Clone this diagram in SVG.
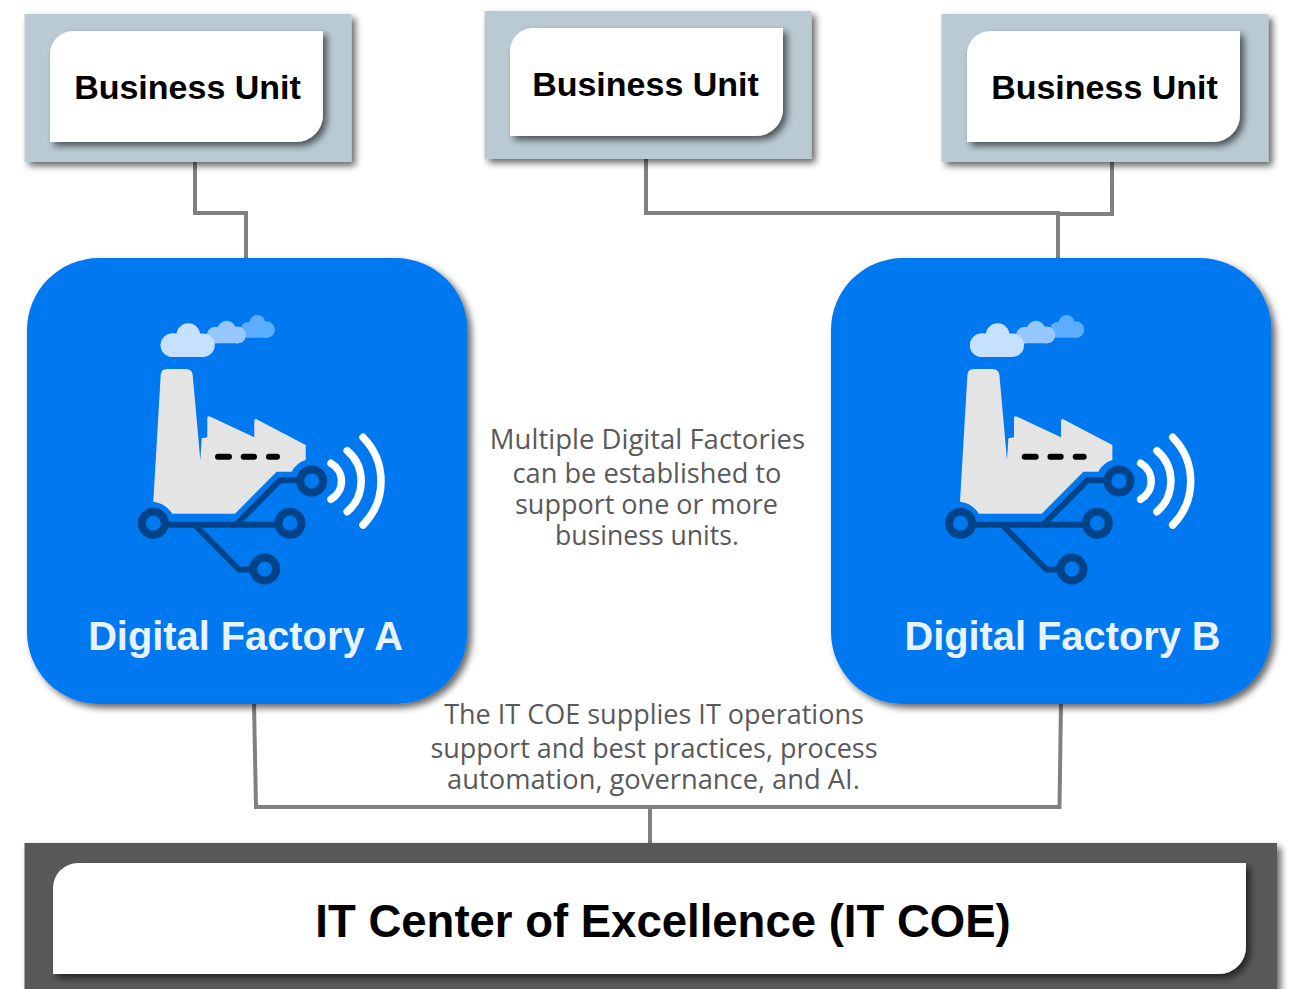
<svg xmlns="http://www.w3.org/2000/svg" width="1290" height="989" viewBox="0 0 1290 989">
<defs>
<filter id="sh" x="-10%" y="-10%" width="125%" height="125%"><feGaussianBlur in="SourceAlpha" stdDeviation="3.500"/><feOffset dx="4" dy="4"/><feComponentTransfer><feFuncA type="linear" slope="0.6"/></feComponentTransfer><feMerge><feMergeNode/><feMergeNode in="SourceGraphic"/></feMerge></filter>
<g id="clouds">
<g fill="#5CADFF"><rect x="240.700" y="322" width="34" height="15.700" rx="7.800"/><circle cx="257.300" cy="322.700" r="7.700"/><circle cx="266.400" cy="329.500" r="8.300"/><circle cx="248.300" cy="330" r="7.600"/></g>
<g fill="#96C8FF"><rect x="207" y="327" width="39" height="16.300" rx="8.100"/><circle cx="226.700" cy="330" r="9.300"/><circle cx="237.300" cy="335" r="8.400"/><circle cx="215" cy="335.500" r="8"/></g>
<g fill="#C6E1FF"><rect x="160.700" y="333.500" width="54" height="23.500" rx="11.700"/><circle cx="188.300" cy="335" r="11.800"/><circle cx="172.400" cy="345.300" r="11.700"/></g>
</g>
<g id="plant">
<path d="M160.700 375Q161 369 167 369H186Q192 369 192.700 375L200.300 460L201.700 438.300L207.300 437.300V418Q207.300 415.500 210 416.500L254.300 437.300V421Q254.500 418 257 419.500L305.700 445V460Q296 463 291.700 471.700H276.700L235 513.700H172.300Q165 503 153.300 501.700Z" fill="#E4E4E4"/>
<path d="M218 456.700H229M243.700 456.700H254M269 456.700H277" stroke="#000" stroke-width="6" stroke-linecap="round" fill="none"/>
</g>
<g id="circuit">
<path d="M153 524.700H290M236.700 524L280 480.300H312M195 525L239 569.500H265" fill="none" stroke="#004389" stroke-width="6"/>
<g fill="#0078EF" stroke="#004389" stroke-width="8"><circle cx="153.300" cy="523.300" r="11.500"/><circle cx="290" cy="523.300" r="11.500"/><circle cx="311.700" cy="481" r="11.500"/><circle cx="264.700" cy="569" r="11.500"/></g>
</g>
<path id="waves" d="M331 463.300A20.700 20.700 0 0 1 331 499.300M347.200 450.700A40.200 40.200 0 0 1 347.200 511.700M363 437.300A62.400 62.400 0 0 1 363 525" fill="none" stroke="#fff" stroke-width="7.500" stroke-linecap="round"/>
</defs>
<style>
.conn{fill:none;stroke:#808080;stroke-width:4}
.bu{fill:#B9CAD3;filter:url(#sh)}
.in{fill:#fff;filter:url(#sh)}
.df{fill:#0078EF;filter:url(#sh)}
.t{font-family:"Liberation Sans",Arial,sans-serif;font-weight:700;text-anchor:middle}
.n{font-family:"Open Sans","Noto Sans",sans-serif;font-size:27px;fill:#595959;text-anchor:middle}
</style>
<rect width="1290" height="989" fill="#fff"/>
<g id="connectors">
<path class="conn" d="M195 162V213H246V260"/>
<path class="conn" d="M646 159V213H1058V260M1112 162V214H1058"/>
<path class="conn" d="M254 703L256 807H1059.500L1061 703M650 807V845"/>
</g>
<g id="bu1"><rect class="bu" x="24.500" y="14" width="327" height="148"/><path class="in" d="M73 31H323V115a27 27 0 0 1-27 27H50V54a23 23 0 0 1 23-23z"/><text class="t" x="187.500" y="99" font-size="34">Business Unit</text></g>
<g id="bu2"><rect class="bu" x="484.500" y="11" width="327" height="148"/><path class="in" d="M533 28H783V109a27 27 0 0 1-27 27H510V51a23 23 0 0 1 23-23z"/><text class="t" x="645.500" y="96" font-size="34">Business Unit</text></g>
<g id="bu3"><rect class="bu" x="941.500" y="14" width="327" height="148"/><path class="in" d="M990 31H1240V115a27 27 0 0 1-27 27H967V54a23 23 0 0 1 23-23z"/><text class="t" x="1104.500" y="99" font-size="34">Business Unit</text></g>
<g id="dfa"><rect class="df" x="27" y="258" width="440.500" height="446" rx="72"/><use href="#clouds"/><use href="#plant"/><use href="#circuit"/><use href="#waves"/><text class="t" x="245.500" y="650" font-size="39.800" fill="#E9F3FF">Digital Factory A</text></g>
<g id="dfb"><rect class="df" x="831" y="258" width="440.500" height="446" rx="72"/><use href="#clouds" x="809.300"/><use href="#plant" x="806.700"/><use href="#circuit" x="807.300"/><use href="#waves" x="809.700"/><text class="t" x="1062.500" y="650" font-size="39.800" fill="#E9F3FF">Digital Factory B</text></g>
<g id="note1"><text class="n"><tspan x="647.500" y="449" font-size="27.500">Multiple Digital Factories</tspan><tspan x="647" y="483" font-size="27.200">can be established to</tspan><tspan x="646.500" y="514">support one or more</tspan><tspan x="647" y="545" font-size="26.600">business units.</tspan></text></g>
<g id="note2"><text class="n"><tspan x="654" y="724">The IT COE supplies IT operations</tspan><tspan x="654" y="758">support and best practices, process</tspan><tspan x="653.500" y="789" font-size="27.300">automation, governance, and AI.</tspan></text></g>
<g id="itcoe"><rect class="df" style="fill:#595959" x="24.500" y="843" width="1252.500" height="150"/><path class="in" d="M78 863H1246V947a27 27 0 0 1-27 27H53V888a25 25 0 0 1 25-25z"/><text class="t" x="663" y="937" font-size="45.500">IT Center of Excellence (IT COE)</text></g>
</svg>
